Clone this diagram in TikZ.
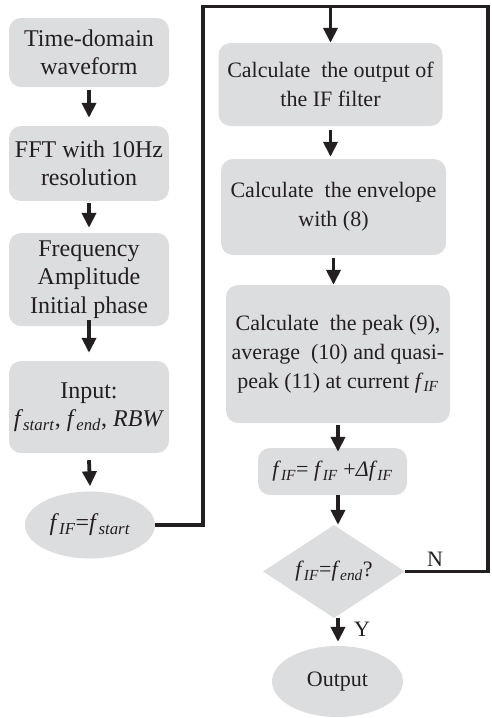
\documentclass[tikz,border=0pt]{standalone}
\usepackage{fontspec}
\setmainfont{Liberation Serif}
\usetikzlibrary{shapes.geometric,arrows.meta}
\definecolor{boxgray}{RGB}{220,221,223}
\definecolor{ink}{RGB}{35,31,32}
\newcommand{\fsb}[1]{\textit{f}\textsubscript{\textit{#1}}}
\begin{document}
\begin{tikzpicture}[x=1pt,y=-1pt,
  box/.style={fill=boxgray, rounded corners=12pt, align=center, inner sep=0pt, text=ink},
  lfont/.style={font=\fontsize{24}{28.5}\selectfont},
  rfont/.style={font=\fontsize{22}{29}\selectfont},
  lbox/.style={box, lfont, minimum width=160pt},
  rbox/.style={box, rfont},
  oval/.style={ellipse, fill=boxgray, inner sep=0pt, text=ink},
  line/.style={draw=ink, line width=3.8pt},
  arr/.style={line, -{Triangle[length=15pt,width=14pt]}},
  lab/.style={rfont, text=ink, inner sep=0pt}
]
\useasboundingbox (0,0) rectangle (492,718);

% left column
\node[lbox, minimum height=69pt] (L1) at (89,52.5) {Time-domain\\waveform};
\node[lbox, minimum height=75pt] (L2) at (89,163.5) {FFT with 10Hz\\resolution};
\node[lbox, minimum height=93pt] (L3) at (89,279.5) {Frequency\\Amplitude\\Initial phase};
\node[lbox, minimum height=92pt] (L4) at (89,407) {Input:\\\fsb{start}, \fsb{end}, \textit{RBW}};
\node[oval, lfont, minimum width=130pt, minimum height=67pt] (L5) at (90,525) {\fsb{IF}=\fsb{start}};

% right column
\node[rbox, minimum width=224pt, minimum height=83pt] (R1) at (330.5,84.5) {Calculate\hspace{0.25em} the output of\\the IF filter};
\node[rbox, minimum width=225pt, minimum height=96pt] (R2) at (333.5,207) {Calculate\hspace{0.25em} the envelope\\with (8)};
\node[rbox, minimum width=224pt, minimum height=138pt] (R3) at (338,354) {Calculate\hspace{0.25em} the peak (9),\\average\hspace{0.25em} (10) and quasi-\\peak (11) at current \fsb{IF}};
\node[rbox, minimum width=149pt, minimum height=47pt] (R4) at (332.5,471.5) {\fsb{IF}= \fsb{IF} +\textit{Δ}\fsb{IF}};
\node[diamond, fill=boxgray, aspect=1.53, minimum width=142pt, minimum height=93pt, inner sep=0pt, rfont, text=ink] (D) at (334,571.5) {\fsb{IF}=\fsb{end}?};
\node[oval, rfont, minimum width=131pt, minimum height=71pt] (O) at (337.5,681.5) {Output};

% labels
\node[lab] (N) at (435,559) {N};
\node[lab] (Y) at (362,629) {Y};

% left arrows
\draw[arr] ([yshift=-3pt]L1.south) -- ([yshift=8pt]L2.north);
\draw[arr] ([yshift=-2pt]L2.south) -- ([yshift=5pt]L3.north);
\draw[arr] ([yshift=6pt]L3.south) -- ([yshift=8pt]L4.north);
\draw[arr] ([yshift=-7pt]L4.south) -- ([yshift=5pt]L5.north);

% loop
\coordinate (cL) at (203,6.5);
\coordinate (cR) at (488,6.5);
\draw[line] (L5.east) -| (cL) -- (cR) |- (D.east);
\draw[arr] (R1.north |- cL) -- (R1.north);

% right arrows
\draw[arr] ([yshift=-4pt]R1.south) -- ([yshift=2pt]R1.south |- R2.north);
\draw[arr] ([yshift=-3pt]R2.south) -- (R2.south |- R3.north);
\draw[arr] ([yshift=-2pt]R3.south) -- ([yshift=-4pt]R3.south |- R4.north);
\draw[arr] (R4.south -| R3.south) -- (D.north -| R3.south);
\draw[arr] (D.south -| R3.south) -- ([yshift=4pt]R3.south |- O.north);
\end{tikzpicture}
\end{document}
